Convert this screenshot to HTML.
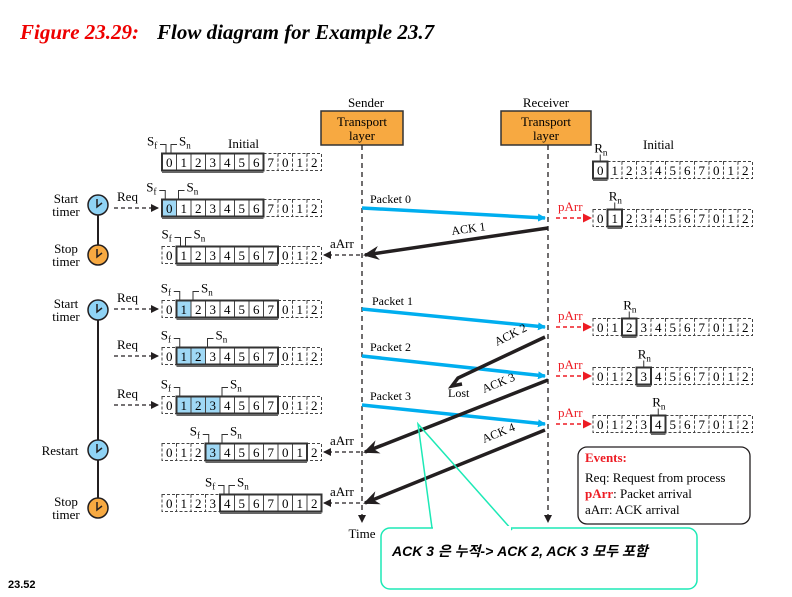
<!DOCTYPE html>
<html><head><meta charset="utf-8"><style>
body{margin:0;background:#fff;width:792px;height:597px;overflow:hidden}
svg{display:block;font-family:"Liberation Serif",serif}
</style></head><body>
<svg id="s" width="792" height="597" viewBox="0 0 792 597" xmlns="http://www.w3.org/2000/svg">
<defs>
<marker id="ab" markerWidth="8" markerHeight="8" refX="7" refY="4" orient="auto" markerUnits="userSpaceOnUse"><path d="M0,0 L8,4 L0,8 Z" fill="#00aeef"/></marker>
<marker id="ak" markerWidth="16" markerHeight="14" refX="14" refY="7" orient="auto" markerUnits="userSpaceOnUse"><path d="M0,0 L16,7 L0,14 L5,7 Z" fill="#231f20"/></marker>
<marker id="ad" markerWidth="8" markerHeight="8" refX="7" refY="4" orient="auto" markerUnits="userSpaceOnUse"><path d="M0,0 L8,4 L0,8 Z" fill="#231f20"/></marker>
<marker id="ar" markerWidth="9" markerHeight="9" refX="8" refY="4.5" orient="auto" markerUnits="userSpaceOnUse"><path d="M0,0 L9,4.5 L0,9 Z" fill="#ed1c24"/></marker>
</defs>
<text x="20" y="39" font-size="21" font-weight="bold" font-style="italic" fill="#e00">Figure 23.29:</text>
<text x="157" y="39" font-size="21" font-weight="bold" font-style="italic" fill="#000">Flow diagram for Example 23.7</text>
<text x="8" y="588" font-size="11" font-weight="bold" font-family="Liberation Sans,sans-serif">23.52</text>
<text x="366" y="107" font-size="13" text-anchor="middle">Sender</text>
<text x="546" y="107" font-size="13" text-anchor="middle">Receiver</text>
<rect x="321" y="111" width="82" height="34" fill="#f7a941" stroke="#333" stroke-width="1.5"/>
<rect x="501" y="111" width="90" height="34" fill="#f7a941" stroke="#333" stroke-width="1.5"/>
<text x="362" y="126" font-size="13" text-anchor="middle">Transport</text>
<text x="362" y="140" font-size="13" text-anchor="middle">layer</text>
<text x="546" y="126" font-size="13" text-anchor="middle">Transport</text>
<text x="546" y="140" font-size="13" text-anchor="middle">layer</text>
<line x1="362" y1="145" x2="362" y2="522" stroke="#231f20" stroke-dasharray="5,4" stroke-width="1.3" marker-end="url(#ad)"/>
<line x1="548" y1="145" x2="548" y2="522" stroke="#231f20" stroke-dasharray="5,4" stroke-width="1.3" marker-end="url(#ad)"/>
<text x="362" y="538" font-size="13" text-anchor="middle">Time</text>
<text x="548" y="538" font-size="13" text-anchor="middle">Time</text>
<line x1="98" y1="205" x2="98" y2="255" stroke="#231f20" stroke-width="2"/>
<line x1="98" y1="310" x2="98" y2="508" stroke="#231f20" stroke-width="2"/>
<g id="g"></g>
<rect x="578" y="447" width="172" height="77" rx="9" fill="#fff" stroke="#231f20" stroke-width="1.3"/>
<text x="585" y="462" font-size="13" font-weight="bold" fill="#ed1c24">Events:</text>
<text x="585" y="482" font-size="13">Req: Request from process</text>
<text x="585" y="498" font-size="13"><tspan fill="#ed1c24" font-weight="bold">pArr</tspan>: Packet arrival</text>
<text x="585" y="514" font-size="13">aArr: ACK arrival</text>
<rect x="381" y="528" width="316" height="61" rx="9" fill="#fff" stroke="#1de9b6" stroke-width="1.5"/>
<polyline points="432,528 418,424 512,530" fill="none" stroke="#1de9b6" stroke-width="1.5"/>
<rect x="433" y="526" width="78" height="4" fill="#fff"/>
<text x="392" y="556" font-size="14" font-weight="bold" font-style="italic" font-family="Liberation Sans,'Noto Sans CJK KR',sans-serif">ACK 3 은 누적-&gt; ACK 2, ACK 3 모두 포함</text>
</svg>
<script>
var g=document.getElementById('g'),h='';
var W=14.5,CH=17,N=11;
function strip(x0,yc,lo,hi,shade){
 var y=yc-CH/2,lab=[0,1,2,3,4,5,6,7,0,1,2];
 for(var i=0;i<N;i++){var x=x0+i*W;var inw=i>=lo&&i<=hi;
  h+='<rect x="'+x+'" y="'+y+'" width="'+W+'" height="'+CH+'" fill="'+(shade.indexOf(i)>=0?'#9fd8f5':'#fff')+'" stroke="#444" stroke-width="1" '+(inw?'':'stroke-dasharray="3,2"')+'/>';
  h+='<text x="'+(x+W/2)+'" y="'+(yc+5)+'" font-size="13" text-anchor="middle">'+lab[i]+'</text>';}
 if(hi>=lo){h+='<rect x="'+(x0+lo*W)+'" y="'+y+'" width="'+((hi-lo+1)*W)+'" height="'+CH+'" fill="none" stroke="#333" stroke-width="2"/>';
  h+='<line x1="'+(x0+lo*W)+'" y1="'+(y+CH+1.5)+'" x2="'+(x0+(hi+1)*W)+'" y2="'+(y+CH+1.5)+'" stroke="#666" stroke-width="2"/>';}
}
function sfsn(x0,yc,f,n){var y=yc-CH/2,xf=x0+f*W+W/2-4,xn=x0+n*W+2;
 if(f==n){xf=x0+f*W+4;xn=xf+5;}
 h+='<polyline points="'+xf+','+y+' '+xf+','+(y-9)+' '+(xf-6)+','+(y-9)+'" fill="none" stroke="#333"/>';
 h+='<polyline points="'+xn+','+y+' '+xn+','+(y-9)+' '+(xn+6)+','+(y-9)+'" fill="none" stroke="#333"/>';
 h+='<text x="'+(xf-19)+'" y="'+(y-8)+'" font-size="13">S<tspan font-size="9" dy="3">f</tspan></text>';
 h+='<text x="'+(xn+8)+'" y="'+(y-8)+'" font-size="13">S<tspan font-size="9" dy="3">n</tspan></text>';}
var S=162;
var rows=[[162,0,6,[],0,0],[208,0,6,[0],0,1],[255,1,7,[],1,1],[309,1,7,[1],1,2],[356,1,7,[1,2],1,3],[405,1,7,[1,2,3],1,4],[452,3,9,[3],3,4],[503,4,10,[],4,4]];
rows.forEach(function(r){strip(S,r[0],r[1],r[2],r[3]);sfsn(S,r[0],r[4],r[5]);});
h+='<text x="228" y="148" font-size="13">Initial</text>';
var R=593;
function rrow(yc,k){strip(R,yc,k,k,[]);var x=R+k*W+W/2,y=yc-CH/2;
 h+='<line x1="'+x+'" y1="'+y+'" x2="'+x+'" y2="'+(y-7)+'" stroke="#333"/>';
 h+='<text x="'+(x-6)+'" y="'+(y-9)+'" font-size="13">R<tspan font-size="9" dy="3">n</tspan></text>';}
rrow(170,0);rrow(218,1);rrow(327,2);rrow(376,3);rrow(424,4);
h+='<text x="643" y="149" font-size="13">Initial</text>';
[218,327,376,424].forEach(function(y){h+='<line x1="556" y1="'+y+'" x2="591" y2="'+y+'" stroke="#ed1c24" stroke-width="1.6" stroke-dasharray="4,3" marker-end="url(#ar)"/>';
 h+='<text x="558" y="'+(y-7)+'" font-size="13" fill="#ed1c24">pArr</text>';});
[208,309,356,405].forEach(function(y){h+='<line x1="114" y1="'+y+'" x2="158" y2="'+y+'" stroke="#231f20" stroke-width="1.3" stroke-dasharray="4,3" marker-end="url(#ad)"/>';
 h+='<text x="117" y="'+(y-7)+'" font-size="13">Req</text>';});
[255,452,503].forEach(function(y){h+='<line x1="360" y1="'+y+'" x2="324" y2="'+y+'" stroke="#231f20" stroke-width="1.3" stroke-dasharray="4,3" marker-end="url(#ad)"/>';
 h+='<text x="330" y="'+(y-7)+'" font-size="13">aArr</text>';});
[[205,'#8fd3f5'],[255,'#f7a941'],[310,'#8fd3f5'],[450,'#8fd3f5'],[508,'#f7a941']].forEach(function(c){var y=c[0];
 h+='<circle cx="98" cy="'+y+'" r="10" fill="'+c[1]+'" stroke="#231f20" stroke-width="1.5"/>';
 h+='<polyline points="97,'+(y-6)+' 97,'+(y+2)+' 102,'+(y-2)+'" fill="none" stroke="#231f20" stroke-width="1.5"/>';});
[['Start','timer',205],['Stop','timer',255],['Start','timer',310],['Stop','timer',508]].forEach(function(t){
 h+='<text x="66" y="'+(t[2]-2)+'" font-size="13" text-anchor="middle">'+t[0]+'</text><text x="66" y="'+(t[2]+11)+'" font-size="13" text-anchor="middle">'+t[1]+'</text>';});
h+='<text x="60" y="455" font-size="13" text-anchor="middle">Restart</text>';
function bl(x1,y1,x2,y2,l,lx,ly){h+='<line x1="'+x1+'" y1="'+y1+'" x2="'+x2+'" y2="'+y2+'" stroke="#00aeef" stroke-width="3.5" marker-end="url(#ab)"/><text x="'+lx+'" y="'+ly+'" font-size="12">'+l+'</text>';}
function bk(x1,y1,x2,y2,l,lx,ly,rot){h+='<line x1="'+x1+'" y1="'+y1+'" x2="'+x2+'" y2="'+y2+'" stroke="#231f20" stroke-width="3.5" marker-end="url(#ak)"/><text x="'+lx+'" y="'+ly+'" font-size="12" transform="rotate('+rot+' '+lx+' '+ly+')">'+l+'</text>';}
bl(362,208,545,218,'Packet 0',370,203);
bl(362,309,545,327,'Packet 1',372,305);
bl(362,356,545,376,'Packet 2',370,351);
bl(362,405,545,424,'Packet 3',370,400);
bk(548,228,365,255,'ACK 1',452,235,-8);
bk(548,380,365,452,'ACK 3',484,393,-22);
bk(545,430,365,503,'ACK 4',484,443,-22);
h+='<polyline points="545,337 458,378 452,386 462,384" fill="none" stroke="#231f20" stroke-width="3.5"/>';
h+='<text x="497" y="346" font-size="12" transform="rotate(-27 497 346)">ACK 2</text>';
h+='<text x="448" y="397" font-size="12">Lost</text>';
g.innerHTML=h;
</script>
</body></html>
